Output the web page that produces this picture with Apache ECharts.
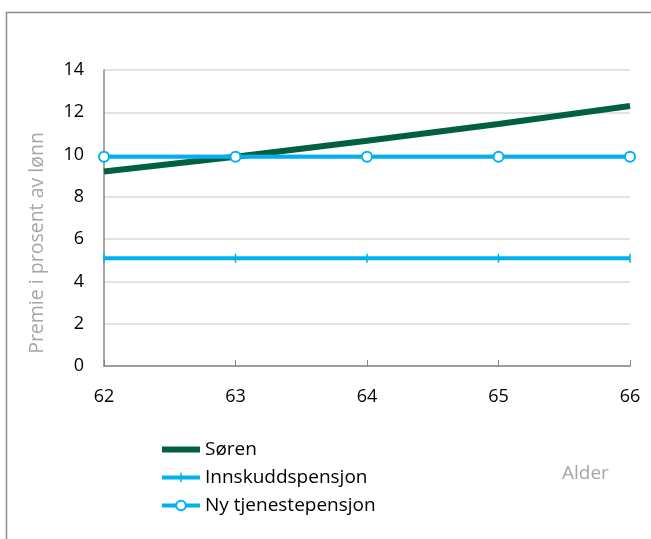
<!DOCTYPE html>
<html>
<head>
<meta charset="utf-8">
<script src="https://cdn.jsdelivr.net/npm/echarts@6/dist/echarts.min.js"></script>
<style>
  html, body { margin: 0; padding: 0; background: #fff; }
  #chart { width: 651px; height: 539px; }
</style>
</head>
<body>
<div id="chart"></div>
<script>
// Ages along the x axis
const ages = ['62', '63', '64', '65', '66'];
// Premium as percent of salary
const soren = [9.2, 9.9, 10.65, 11.45, 12.3];
const innskudd = [5.1, 5.1, 5.1, 5.1, 5.1];
const nyTjeneste = [9.9, 9.9, 9.9, 9.9, 9.9];
const seriesNames = ['Søren', 'Innskuddspensjon', 'Ny tjenestepensjon'];

const FONT = '"Open Sans", "Liberation Sans", sans-serif';
const BLUE = '#00b0f0';
const GREEN = '#006040';
// thin vertical dash marker (the tiny end segments only fix the bounding box)
const DASH = 'path://M0,0L0.01,0M5,0L5,10M10,10L10.01,10';

const chart = echarts.init(document.getElementById('chart'), null, { renderer: 'canvas' });

chart.setOption({
  animation: false,
  backgroundColor: '#fff',
  textStyle: { fontFamily: FONT },
  graphic: [
    {
      type: 'rect',
      shape: { x: 6.5, y: 12.5, width: 700, height: 600 },
      style: { fill: 'none', stroke: '#8c8c8c', lineWidth: 1.5 },
      silent: true
    },
    {
      type: 'text',
      left: 562, top: 464,
      style: { text: 'Alder', fill: '#a6a6a6', font: '19px ' + FONT }
    },
    {
      type: 'text',
      x: 37, y: 243,
      rotation: Math.PI / 2,
      style: {
        text: 'Premie i prosent av lønn',
        fill: '#a6a6a6',
        font: '19.5px ' + FONT,
        align: 'center',
        verticalAlign: 'middle'
      }
    }
  ],
  grid: { left: 104, right: 21, top: 70, bottom: 173, containLabel: false },
  legend: {
    orient: 'vertical',
    left: 159, top: 440,
    padding: 0,
    itemWidth: 38, itemHeight: 12, itemGap: 9,
    textStyle: { fontSize: 19, color: '#000', fontFamily: FONT },
    data: [
      { name: seriesNames[0], itemStyle: { opacity: 0 }, lineStyle: { width: 6 } },
      { name: seriesNames[1], itemStyle: { color: BLUE, borderColor: BLUE, borderWidth: 1.5 }, lineStyle: { width: 4 } },
      { name: seriesNames[2], lineStyle: { width: 4 } }
    ]
  },
  xAxis: {
    type: 'category',
    data: ages,
    boundaryGap: false,
    axisLine: { lineStyle: { color: '#868686', width: 1.5 } },
    axisTick: { show: true, inside: true, length: 6, lineStyle: { color: '#868686' } },
    axisLabel: { color: '#000', fontSize: 18, margin: 22, fontFamily: FONT },
    splitLine: { show: false }
  },
  yAxis: {
    type: 'value',
    min: 0, max: 14, interval: 2,
    axisLine: { show: true, lineStyle: { color: '#868686', width: 1.5 } },
    axisTick: { show: false },
    axisLabel: { color: '#000', fontSize: 18, margin: 20, fontFamily: FONT },
    splitLine: { lineStyle: { color: '#d9d9d9', width: 1.5 } }
  },
  series: [
    {
      name: seriesNames[0],
      type: 'line',
      data: soren,
      showSymbol: false,
      symbol: 'none',
      lineStyle: { color: GREEN, width: 6 },
      itemStyle: { color: GREEN },
      z: 3
    },
    {
      name: seriesNames[1],
      type: 'line',
      data: innskudd,
      symbol: DASH,
      symbolSize: 9,
      lineStyle: { color: BLUE, width: 4 },
      itemStyle: { color: BLUE, borderColor: BLUE, borderWidth: 1.5 },
      z: 2
    },
    {
      name: seriesNames[2],
      type: 'line',
      data: nyTjeneste,
      symbol: 'emptyCircle',
      symbolSize: 10,
      lineStyle: { color: BLUE, width: 4 },
      itemStyle: { color: BLUE, borderColor: BLUE, borderWidth: 1.5 },
      z: 4
    }
  ]
});
</script>
</body>
</html>
